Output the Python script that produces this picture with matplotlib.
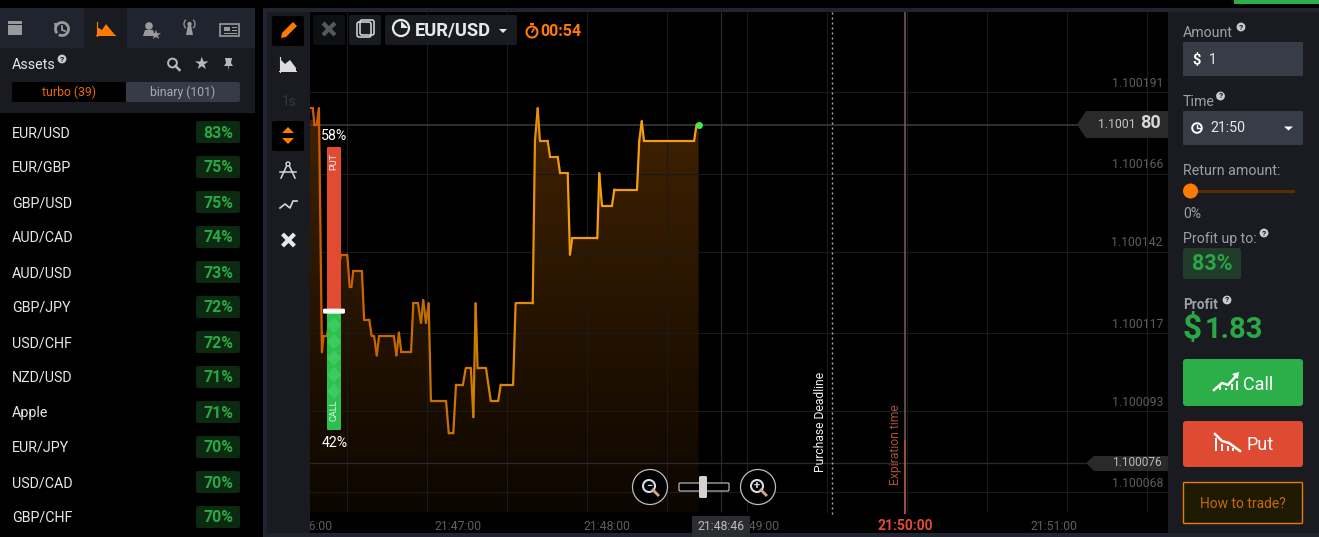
import matplotlib
matplotlib.use("Agg")
import matplotlib.pyplot as plt
from matplotlib.patches import FancyBboxPatch, Rectangle, Polygon, Circle, Arc
from matplotlib.collections import LineCollection
from matplotlib.colors import LinearSegmentedColormap
import numpy as np

plt.rcParams['font.family'] = ['Roboto', 'DejaVu Sans']

# asset list
assets = ["EUR/USD", "EUR/GBP", "GBP/USD", "AUD/CAD", "AUD/USD", "GBP/JPY",
          "USD/CHF", "NZD/USD", "Apple", "EUR/JPY", "USD/CAD", "GBP/CHF"]
payouts = [83, 75, 75, 74, 73, 72, 72, 71, 71, 70, 70, 70]

# price line: seconds after 21:46:00, and price
seconds = [0.4, 1.5, 2.2, 3.1, 4.0, 5.2, 5.8, 7.2, 12.9, 15.4, 16.4, 17.1, 17.8, 21.3, 22.2, 24.3,
           25.2, 26.2, 27.3, 28.2, 34.2, 35.2, 36.2, 37.2, 41.1, 42.0, 43.9, 45.1, 46.0, 47.1, 48.2,
           49.1, 55.2, 56.3, 58.1, 59.2, 62.0, 63.1, 65.2, 66.2, 67.1, 67.9, 71.3, 73.2, 76.2, 77.2,
           82.2, 83.2, 90.1, 91.0, 92.1, 93.0, 96.1, 97.1, 100.2, 101.1, 104.2, 105.1, 106.0, 116.1,
           116.9, 118.0, 122.0, 123.0, 132.1, 133.0, 134.0, 134.9, 155.1, 156.1, 156.9]
prices = [1.100185, 1.100185, 1.100180, 1.100180, 1.100185, 1.100110, 1.100115, 1.100115, 1.100140,
          1.100140, 1.100130, 1.100130, 1.100135, 1.100135, 1.100120, 1.100120, 1.100115, 1.100115,
          1.100109, 1.100115, 1.100115, 1.100109, 1.100116, 1.100110, 1.100110, 1.100125, 1.100125,
          1.100119, 1.100126, 1.100119, 1.100125, 1.100095, 1.100095, 1.100085, 1.100085, 1.100100,
          1.100100, 1.100105, 1.100105, 1.100090, 1.100125, 1.100105, 1.100105, 1.100095, 1.100095,
          1.100100, 1.100100, 1.100125, 1.100125, 1.100175, 1.100185, 1.100175, 1.100175, 1.100170,
          1.100170, 1.100165, 1.100165, 1.100140, 1.100145, 1.100145, 1.100165, 1.100155, 1.100155,
          1.100160, 1.100160, 1.100175, 1.100181, 1.100175, 1.100175, 1.100180, 1.100180]

# axes labels
price_ticks = [1.100191, 1.100166, 1.100142, 1.100117, 1.100093, 1.100068]
time_ticks = [0, 60, 120, 180, 240, 300]
time_labels = ["21:46:00", "21:47:00", "21:48:00", "21:49:00", "21:50:00", "21:51:00"]
grid_seconds = [15.2, 47.4, 79.6, 111.8, 144.0, 176.3, 208.5, 240.7, 272.9, 305.1, 337.3]

put_pct, call_pct = 58, 42
deadline_sec = 210.5
expiry_sec = 240
cursor_sec = 166
current_price = 1.100180
low_price = 1.100076

W, H = 1319, 537
PX_S = 2.483      # pixels per second
PX_P = 3.252e6    # pixels per price unit

fig = plt.figure(figsize=(W / 100, H / 100), dpi=100, facecolor='black')

# chart area, 310..1168 x 12..533 in image pixels
ax = fig.add_axes([310 / W, 1 - 533 / H, 858 / W, 521 / H], facecolor='black')


def x2s(x):
    return (x - 309) / PX_S


def y2p(y):
    return current_price + (124.5 - y) / PX_P


xlim = (x2s(310), x2s(1168))
ylim = (y2p(533), y2p(12))
GRID = '#1a1a1a'
ax.vlines(grid_seconds, y2p(512), y2p(12), color=GRID, lw=0.8)
for p in price_ticks:
    ax.axhline(p - 1.1e-6, color=GRID, lw=0.8)
ax.hlines(current_price, xlim[0], x2s(1085), color='#343434', lw=1.3)
ax.hlines(low_price, xlim[0], x2s(1090), color='#2a2a2a', lw=0.9)
ax.vlines(cursor_sec, y2p(512), y2p(12), color='#2a2a2a', lw=0.9)

# area below the line, fading downwards
s = np.array(seconds)
p = np.array(prices)
bottom = y2p(512)
area = ax.fill_between(s, p, bottom, color='none', lw=0)
fade = LinearSegmentedColormap.from_list('fade', ['#0c0600', '#3f2100'])
im = ax.imshow(np.linspace(1, 0, 256).reshape(-1, 1), cmap=fade, aspect='auto',
               extent=(s[0], s[-1], bottom, y2p(120)), zorder=1)
im.set_clip_path(area.get_paths()[0], transform=ax.transData)

pts = np.column_stack([s, p])
segs = np.stack([pts[:-1], pts[1:]], axis=1)
line_cmap = LinearSegmentedColormap.from_list('ln', ['#d05c00', '#c47000', '#f59c0c', '#f5a00c'])
lc = LineCollection(segs, cmap=line_cmap, linewidths=1.6, capstyle='round', zorder=3)
lc.set_array((s[:-1] - s[0]) / (s[-1] - s[0]))
ax.add_collection(lc)
ax.plot(s[-1], p[-1], 'o', color='#3cf04c', ms=5, mew=0, zorder=4)

ax.vlines(deadline_sec, y2p(514), y2p(12), color='#b4b4b4', lw=1.0, linestyles=(0, (1.4, 2.2)))
ax.vlines(expiry_sec, y2p(514), y2p(12), color='#6e5a52', lw=1.2)
ax.vlines(expiry_sec, y2p(514), y2p(440), color='#a8503e', lw=1.2)

ax.set_xlim(xlim)
ax.set_ylim(ylim)
ax.axis('off')

tf = ax.get_xaxis_transform()
for t, lab in zip(time_ticks, time_labels):
    is_exp = t == expiry_sec
    ax.text(t, (533 - 526.5) / 521, lab, transform=tf, ha='center', va='center', clip_on=True,
            fontsize=10 if is_exp else 8.8, color='#e04b32' if is_exp else '#5e5e5e',
            fontweight='bold' if is_exp else 'normal')
for pt in price_ticks:
    ax.text(x2s(1163), pt + 1.6e-6, f"{pt:.6f}", ha='right', va='center', fontsize=8.8, color='#5c5c5c')

# flat overlay in image pixels for the trading UI around the chart
ui = fig.add_axes([0, 0, 1, 1], facecolor='none')
ui.set_xlim(0, W)
ui.set_ylim(H, 0)
ui.axis('off')


def rect(x0, y0, x1, y1, c, r=0, ec='none', lw=0, z=2):
    if r:
        pa = FancyBboxPatch((x0 + r, y0 + r), x1 - x0 - 2 * r, y1 - y0 - 2 * r,
                            boxstyle=f"round,pad={r},rounding_size={r}", fc=c, ec=ec, lw=lw, zorder=z)
    else:
        pa = Rectangle((x0, y0), x1 - x0, y1 - y0, fc=c, ec=ec, lw=lw, zorder=z)
    ui.add_patch(pa)


def txt(x, y, s, size=10, c='white', ha='left', weight='normal', rot=0, z=5):
    ui.text(x, y + 1, s, fontsize=size, color=c, ha=ha, va='center', fontweight=weight, rotation=rot, zorder=z)


def help_mark(x, y, c='#c8ccd2'):
    ui.add_patch(Circle((x, y), 4.4, fc=c, ec='none', zorder=5))
    txt(x, y - 1, "?", 6, '#191b21', 'center', 'bold', z=6)


def poly(points, c, z=6):
    ui.add_patch(Polygon(points, closed=True, fc=c, ec='none', zorder=z))


PANEL = '#191b21'
FRAME = '#20242f'
GREY = '#9ca1a8'
ORANGE = '#ff7a00'
ICON = '#9a9a9a'

# frame
rect(263, 8, W, 12, FRAME)
rect(263, 8, 267, H, FRAME)
rect(263, 533, W, H, FRAME)
rect(1234, 0, W, 4, '#2cae48')
rect(267, 12, 310, 533, PANEL)
rect(1168, 12, W, 533, PANEL)

# left column
rect(0, 8, 255, 48, FRAME)
rect(84, 8, 127, 48, PANEL)
rect(0, 48, 255, 113, PANEL)
txt(12, 64, "Assets", 10.3, '#e6e6e6')
help_mark(62, 59)
rect(12, 82, 126, 102, '#000000', r=2, z=3)
rect(126, 82, 240, 102, '#363b47', r=2, z=3)
txt(69, 91.5, "turbo (39)", 8.8, '#e86a00', 'center')
txt(183, 91.5, "binary (101)", 8.8, '#a4a9b2', 'center')

# tab icons
rect(8, 21, 22, 35, ICON)
rect(8, 24, 22, 25, FRAME, z=3)
ui.add_patch(Arc((62, 29), 13, 13, theta1=-220, theta2=120, ec=ICON, lw=2, zorder=5))
poly([(54, 23), (60, 23), (55, 28)], ICON)
ui.plot([62, 62, 65], [26, 30, 31], color=ICON, lw=1.3, zorder=5)
poly([(97, 35), (97, 27), (102, 30), (106, 24), (110, 29), (115, 35)], ORANGE)
rect(96, 35, 116, 36, ORANGE, z=6)
ui.plot([96.5, 96.5], [22, 36], color=ORANGE, lw=0.8, zorder=6)
ui.add_patch(Circle((149, 26), 3.8, fc=ICON, zorder=5))
poly([(143, 36), (145, 30), (153, 30), (155, 36)], ICON)
txt(155, 34.5, "★", 9.5, ICON, 'center')
poly([(186, 35), (188, 25), (191, 25), (193, 35)], ICON)
ui.add_patch(Circle((189.5, 24), 2.2, fc=ICON, zorder=5))
ui.add_patch(Arc((189.5, 24), 11, 11, theta1=130, theta2=230, ec=ICON, lw=0.9, zorder=5))
ui.add_patch(Arc((189.5, 24), 11, 11, theta1=-50, theta2=50, ec=ICON, lw=0.9, zorder=5))
rect(220, 24, 239, 35.5, 'none', ec=ICON, lw=1.2, z=5)
rect(224, 26.5, 230, 31, ICON, z=5)
rect(232, 27, 237, 28, ICON, z=5)
rect(232, 30, 237, 31, ICON, z=5)
rect(224, 33, 237, 34, ICON, z=5)
# assets row icons
ui.add_patch(Circle((172.5, 63), 4.4, fc='none', ec='#b8b8b8', lw=1.4, zorder=5))
ui.plot([175.5, 179.5], [66, 70], color='#b8b8b8', lw=1.8, zorder=5)
txt(201.5, 63, "★", 12.5, '#b8b8b8', 'center')
poly([(225, 58), (232, 58), (231, 63), (233, 66), (229, 66), (228.5, 71), (228, 66), (224, 66), (226, 63)], '#b8b8b8')

for i, (name, pay) in enumerate(zip(assets, payouts)):
    y = 132 + 35 * i
    txt(12, y, name, 10.3, '#e8e8e8')
    rect(196, y - 11, 240, y + 11, '#0c2a12', r=2)
    txt(218, y, f"{pay}%", 11.4, '#2aa845', 'center', 'bold')

# toolbar
rect(272, 16, 304, 46, '#000000', r=2)
rect(272, 121, 304, 151, '#000000', r=2)
poly([(282, 33), (293, 22), (297, 26), (286, 37), (281, 38)], ORANGE)
poly([(280, 71), (280, 59), (285, 64), (290, 60), (296, 68), (296, 71)], '#dcdcdc')
rect(279, 71, 297, 72, '#dcdcdc', z=6)
ui.plot([279.5, 279.5], [57, 72], color='#dcdcdc', lw=0.8, zorder=6)
txt(289, 101, "1s", 10, '#33373e', 'center')
poly([(282, 133), (294, 133), (288, 127)], ORANGE)
poly([(282, 138), (294, 138), (288, 144)], ORANGE)
ui.plot([288, 281], [163, 178], color='#d8d8d8', lw=1.1, zorder=5)
ui.plot([288, 295], [163, 178], color='#d8d8d8', lw=1.1, zorder=5)
ui.plot([280, 296], [172, 172], color='#d8d8d8', lw=1.1, zorder=5)
ui.add_patch(Circle((288, 164), 2, fc=PANEL, ec='#d8d8d8', lw=1, zorder=6))
ui.plot([280, 285, 290, 293, 297], [208, 204, 208, 201, 201], color='#d8d8d8', lw=1.2, zorder=5)
ui.plot([288.5, 288.5], [240, 240], color='#e8e8e8', lw=0)
ui.plot([284, 293], [235.5, 244.5], color='#e8e8e8', lw=3, zorder=5)
ui.plot([284, 293], [244.5, 235.5], color='#e8e8e8', lw=3, zorder=5)

# chart header
rect(313, 15, 345, 45, '#0e0f11', r=2)
ui.plot([324.5, 333.5], [24.5, 33.5], color='#55585c', lw=3, zorder=5)
ui.plot([324.5, 333.5], [33.5, 24.5], color='#55585c', lw=3, zorder=5)
rect(349, 15, 381, 45, PANEL, r=2)
rect(357, 22, 371, 37, 'none', ec='#d8dde2', lw=1.1, r=2, z=5)
rect(360, 20, 374, 35, 'none', ec='#d8dde2', lw=1.1, r=2, z=5)
rect(385, 15, 517, 45, PANEL, r=2)
ui.add_patch(Circle((401, 28), 8, fc='none', ec='#e8e8e8', lw=1.6, zorder=5))
poly([(401, 28), (401, 21), (408, 28)], '#e8e8e8')
txt(415, 29.5, "EUR/USD", 13.2, '#e4e8ec', weight='bold')
poly([(499, 29), (507, 29), (503, 33)], '#e8e8e8')
ui.add_patch(Circle((532, 32), 5.5, fc='none', ec=ORANGE, lw=1.5, zorder=5))
ui.plot([532, 534], [32, 29], color=ORANGE, lw=1.2, zorder=5)
rect(530, 23, 534, 25, ORANGE, z=5)
txt(540, 31, "00:54", 11.5, ORANGE, weight='bold')

# call / put sentiment bar
bar_top, bar_bot = 147, 430
split = bar_top + (bar_bot - bar_top) * put_pct / (put_pct + call_pct)
rect(327, bar_top, 341, split, '#e04b32', r=1)
rect(327, split, 341, bar_bot, '#2cc04f', r=1)
for cy in np.arange(split + 14, bar_bot - 30, 16.5):
    poly([(327, cy), (334, cy - 8), (341, cy), (334, cy + 8)], '#3bcb5e', z=3)
rect(323, split - 2.5, 345, split + 2.5, 'white', r=1.5, z=4)
txt(334, 161, "PUT", 6.6, '#f5f5f5', 'center', rot=90)
txt(334, 409, "CALL", 6.6, '#dff5e4', 'center', rot=90)
txt(334.5, 135, f"{put_pct}%", 10.2, 'white', 'center')
txt(334.5, 442, f"{call_pct}%", 10.2, 'white', 'center')

# zoom controls
for cx, sign in ((650, '−'), (758, '+')):
    ui.add_patch(Circle((cx, 487), 17.5, fc='black', ec='#bdbdbd', lw=0.9, zorder=3))
    ui.add_patch(Circle((cx - 1, 486), 6, fc='none', ec='#d6dce2', lw=1.5, zorder=5))
    ui.plot([cx + 3, cx + 8], [490, 495], color='#cfa98a', lw=2, zorder=5)
    txt(cx - 1, 484.5, sign, 8, '#d6dce2', 'center', 'bold', z=6)
rect(679, 483, 729, 491, 'black', ec='#c8c8c8', lw=0.8, r=1, z=3)
rect(699, 476, 707, 498, '#d2d2d2', r=1.5, z=4)

# line captions
txt(821, 421, "Purchase Deadline", 8.7, '#f0f0f0', 'center', rot=90)
txt(896, 444, "Expiration time", 8.7, '#a8503e', 'center', rot=90)

# price and time tags
poly([(1077, 124.5), (1086, 111), (1168, 111), (1168, 138), (1086, 138)], '#2a2a2a', z=3)
txt(1098, 123, "1.1001", 8.8, '#c4c4c4')
txt(1140, 122.5, "80", 13, '#d8d8d8', weight='bold')
poly([(1086, 463), (1094, 456), (1168, 456), (1168, 471), (1094, 471)], '#2a2a2a', z=3)
txt(1112, 462, "1.100076", 8.6, '#b8b8b8')
rect(692, 516, 750, H, '#2b2d30', z=3)
txt(721, 526, "21:48:46", 8.8, '#bcbcbc', 'center')

# right column
txt(1183, 32, "Amount", 10.2, GREY)
help_mark(1241, 27)
rect(1183, 42, 1303, 76, '#383c46', r=1)
txt(1192, 58.5, "$", 10.5, 'white', weight='bold')
txt(1209, 58.5, "1", 10, '#e8e8e8')
txt(1183, 101, "Time", 10.2, GREY)
help_mark(1220.5, 96)
rect(1183, 111, 1303, 145, '#383c46', r=1)
ui.add_patch(Circle((1197, 128), 4.8, fc='none', ec='white', lw=1.4, zorder=5))
ui.plot([1197, 1197, 1200], [125, 128, 128], color='white', lw=1, zorder=5)
txt(1210, 127.5, "21:50", 10.2, '#e8e8e8')
poly([(1284, 126.5), (1293, 126.5), (1288.5, 130.5)], 'white')
txt(1183, 170, "Return amount:", 10.3, GREY)
rect(1183, 190, 1295, 193, '#5a2c00', z=3)
ui.add_patch(Circle((1190.5, 191), 7.5, fc=ORANGE, ec='none', zorder=4))
txt(1183, 213, "0%", 10, GREY)
txt(1183, 238, "Profit up to:", 10.2, GREY)
help_mark(1264, 233)
rect(1183, 248, 1241, 279, '#1f3d28', r=3)
txt(1212, 263.5, "83%", 15.5, '#2aa845', 'center', 'bold')
txt(1183, 304, "Profit", 9.8, GREY, weight='bold')
help_mark(1227, 300)
txt(1183, 328.5, "$", 24, '#2aa845', weight='bold')
txt(1205, 328.5, "1.83", 21, '#2aa845', weight='bold')
rect(1183, 359, 1303, 406, '#2cae48', r=3)
ui.plot([1214, 1222, 1228, 1236], [390, 383, 385, 376], color='white', lw=1.8, zorder=6)
poly([(1232, 374), (1239, 372), (1238, 379)], 'white')
for bx, by in ((1220, 386), (1226, 388), (1232, 384), (1237, 381)):
    rect(bx - 1, by, bx + 1, 390, 'white', z=6)
txt(1243, 383.5, "Call", 13, 'white')
rect(1183, 421, 1303, 467, '#df4b32', r=3)
ui.plot([1215, 1222, 1229, 1240], [434, 441, 443, 451], color='white', lw=1.8, zorder=6)
for bx, by in ((1216, 438), (1222, 444), (1228, 446), (1233, 448)):
    rect(bx - 1, by, bx + 1, 451, 'white', z=6)
txt(1246, 444, "Put", 13, 'white')
rect(1183.5, 482.5, 1302.5, 523.5, '#1e1a02', ec='#ee7a00', lw=1, r=1)
txt(1243, 503, "How to trade?", 10, '#c9680a', 'center')

fig.savefig("out.png", dpi=100, facecolor='black')
